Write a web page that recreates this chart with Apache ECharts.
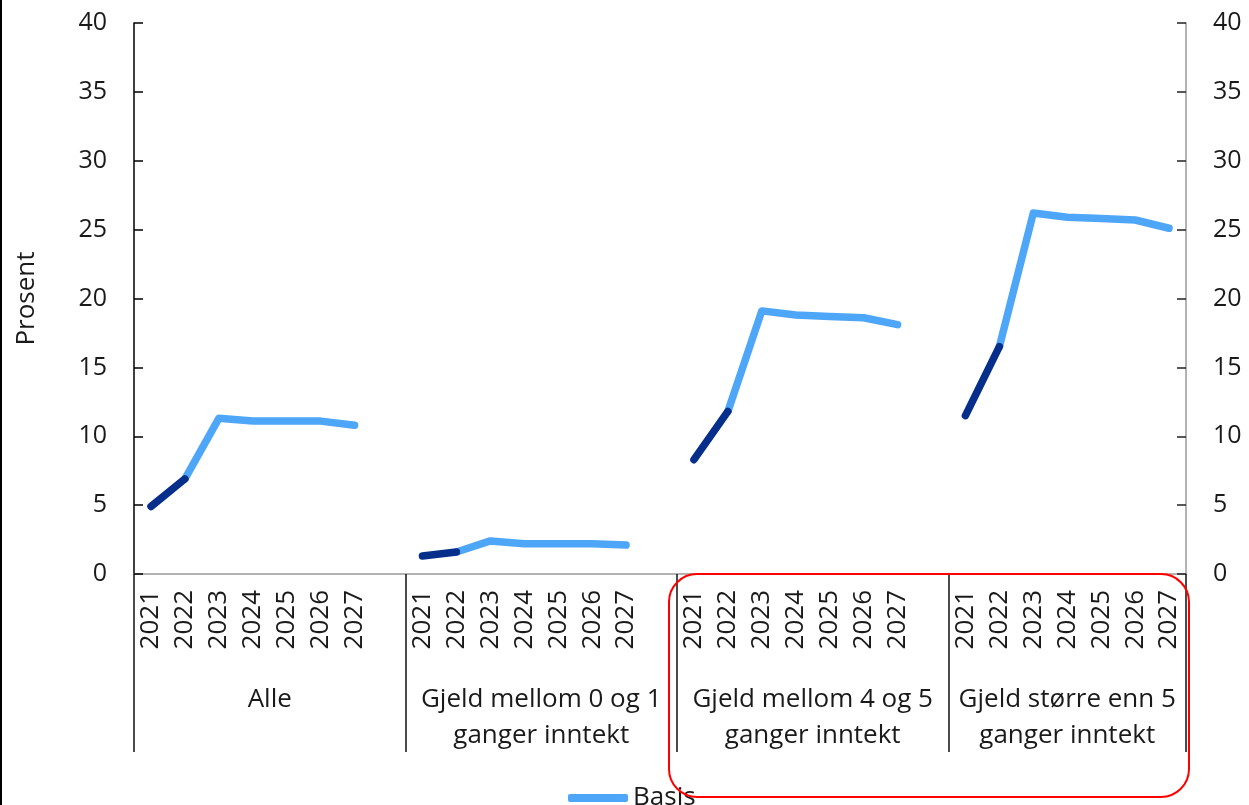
<!DOCTYPE html>
<html>
<head>
<meta charset="utf-8">
<script src="https://cdn.jsdelivr.net/npm/echarts@6/dist/echarts.min.js"></script>
<style>
  html, body { margin: 0; padding: 0; background: #fff; }
  #chart { width: 1249px; height: 805px; }
</style>
</head>
<body>
<div id="chart"></div>
<script>
// Years shown under each group
const years = ['2021', '2022', '2023', '2024', '2025', '2026', '2027'];

// Debt-to-income groups
const groups = [
  'Alle',
  'Gjeld mellom 0 og 1\nganger inntekt',
  'Gjeld mellom 4 og 5\nganger inntekt',
  'Gjeld større enn 5\nganger inntekt'
];

// Share (prosent) per group, 2021–2027
const alle       = [4.9, 6.9, 11.3, 11.1, 11.1, 11.1, 10.8];
const gjeld0til1 = [1.3, 1.6, 2.4, 2.2, 2.2, 2.2, 2.1];
const gjeld4til5 = [8.3, 11.8, 19.1, 18.8, 18.7, 18.6, 18.1];
const gjeldOver5 = [11.5, 16.5, 26.2, 25.9, 25.8, 25.7, 25.1];

const groupValues = [alle, gjeld0til1, gjeld4til5, gjeldOver5];

// Y-axis ticks
const yMin = 0, yMax = 40, yStep = 5;

// Build the category slots: seven years per group, one empty slot between groups
const slots = [];
const histData = [];
const basisData = [];
groupValues.forEach(function (vals, g) {
  years.forEach(function (y, i) {
    slots.push(y);
    histData.push(i <= 1 ? vals[i] : null);
    basisData.push(i >= 1 ? vals[i] : null);
  });
  if (g < groupValues.length - 1) {
    slots.push('');
    histData.push(null);
    basisData.push(null);
  }
});

// Group axis on a half-slot grid: boundaries and centres fall on its points
const half = [];
const groupBounds = {};
const groupCentres = {};
for (let i = 0; i <= slots.length * 2; i++) half.push('');
let start = 0;
groupValues.forEach(function (vals, g) {
  const size = years.length + (g < groupValues.length - 1 ? 1 : 0);
  groupBounds[start * 2] = true;
  const centre = start * 2 + (g < groupValues.length - 1 ? size : years.length);
  half[centre] = groups[g];
  groupCentres[centre] = true;
  start += size;
});
groupBounds[slots.length * 2] = true;

const FONT = 'Open Sans';
const TXT = '#1a1a1a';

const chart = echarts.init(document.getElementById('chart'), null, { renderer: 'canvas' });

chart.setOption({
  animation: false,
  backgroundColor: '#ffffff',
  textStyle: { fontFamily: FONT },
  grid: { left: 134, right: 63, top: 23, bottom: 231, containLabel: false },
  legend: {
    data: ['Basis'],
    left: 563,
    top: 780,
    itemWidth: 60,
    itemHeight: 8,
    itemGap: 10,
    icon: 'roundRect',
    textStyle: { fontFamily: FONT, fontSize: 26, color: TXT, padding: [0, 0, 0, 0] }
  },
  xAxis: [
    {
      type: 'category',
      data: slots,
      boundaryGap: true,
      position: 'bottom',
      axisLine: { show: true, lineStyle: { color: '#9a9a9a', width: 1.5 } },
      axisTick: { show: false },
      axisLabel: {
        interval: 0,
        rotate: 90,
        margin: 16,
        fontFamily: FONT,
        fontSize: 26,
        color: TXT
      },
      splitLine: { show: false }
    },
    {
      type: 'category',
      data: half,
      boundaryGap: false,
      position: 'bottom',
      axisLine: { show: false },
      axisTick: {
        show: true,
        length: 178,
        interval: function (idx) { return !!groupBounds[idx]; },
        lineStyle: { color: '#111', width: 1.5 }
      },
      axisLabel: {
        interval: function (idx) { return !!groupCentres[idx]; },
        margin: 108,
        fontFamily: FONT,
        fontSize: 26,
        lineHeight: 36,
        color: TXT,
        align: 'center'
      },
      splitLine: { show: false }
    }
  ],
  yAxis: [
    {
      type: 'value',
      position: 'left',
      min: yMin, max: yMax, interval: yStep,
      name: 'Prosent',
      nameLocation: 'middle',
      nameGap: 94,
      nameTextStyle: { fontFamily: FONT, fontSize: 26, color: TXT },
      axisLine: { show: true, lineStyle: { color: '#000', width: 1.5 } },
      axisTick: { show: true, inside: true, length: 9, lineStyle: { color: '#000', width: 1.5 } },
      axisLabel: { margin: 27, fontFamily: FONT, fontSize: 25, color: TXT },
      splitLine: { show: false }
    },
    {
      type: 'value',
      position: 'right',
      min: yMin, max: yMax, interval: yStep,
      axisLine: { show: true, lineStyle: { color: '#9a9a9a', width: 1.5 } },
      axisTick: { show: true, inside: true, length: 9, lineStyle: { color: '#222', width: 1.5 } },
      axisLabel: { margin: 27, fontFamily: FONT, fontSize: 25, color: TXT },
      splitLine: { show: false }
    }
  ],
  series: [
    {
      name: 'Historikk',
      type: 'line',
      xAxisIndex: 0,
      yAxisIndex: 0,
      data: histData,
      showSymbol: false,
      symbol: 'none',
      connectNulls: false,
      itemStyle: { color: '#062f8c' },
      lineStyle: { color: '#062f8c', width: 7.5, cap: 'round', join: 'round' },
      z: 3
    },
    {
      name: 'Basis',
      type: 'line',
      xAxisIndex: 0,
      yAxisIndex: 0,
      data: basisData,
      showSymbol: false,
      symbol: 'none',
      connectNulls: false,
      itemStyle: { color: '#4ea6f8' },
      lineStyle: { color: '#4ea6f8', width: 7.5, cap: 'round', join: 'round' },
      z: 2
    }
  ],
  graphic: [
    // highlight frame around the two highest debt groups
    {
      type: 'rect',
      shape: { x: 669, y: 574, width: 520, height: 223, r: 28 },
      style: { fill: 'none', stroke: '#ff0000', lineWidth: 2 },
      z: 100
    },
    // left page edge
    {
      type: 'line',
      shape: { x1: 1, y1: 0, x2: 1, y2: 805 },
      style: { stroke: '#000', lineWidth: 2 },
      z: 100
    }
  ]
});
</script>
</body>
</html>
